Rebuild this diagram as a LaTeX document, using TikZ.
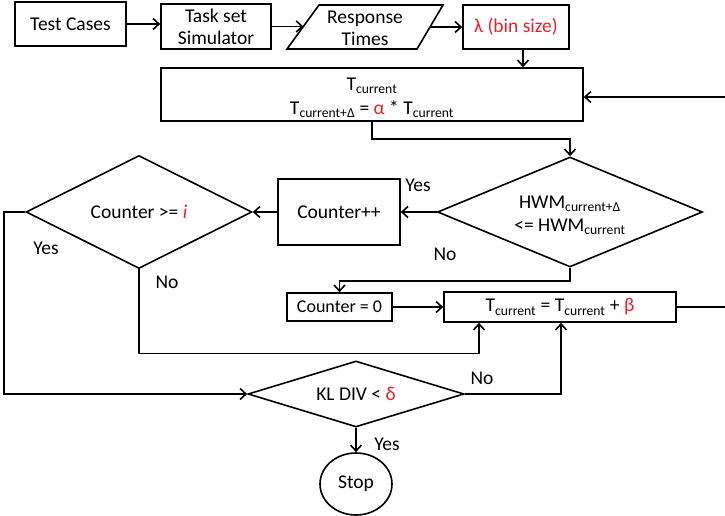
\documentclass[tikz,border=0pt]{standalone}
\usepackage{fontspec}
\setmainfont{Carlito}
\usetikzlibrary{shapes.geometric,arrows.meta}
\definecolor{accent}{RGB}{232,32,40}
\newcommand{\Tcur}{T\textsubscript{current}}
\newcommand{\hl}[1]{{\color{accent}#1}}
\begin{document}
\begin{tikzpicture}[x=1pt,y=-1pt,line width=1.6pt,
  every node/.style={font=\fontsize{19.5}{23}\selectfont},
  box/.style={draw,rectangle,inner sep=0pt,align=center},
  decision/.style={draw,diamond,inner sep=0pt,align=center},
  terminal/.style={draw,ellipse,inner sep=0pt},
  lbl/.style={inner sep=0pt},
  arr/.style={-{Straight Barb[length=6pt,width=11pt]}}]
\useasboundingbox (0,0) rectangle (725,516);
\clip (0,0) rectangle (725,516);

% top row
\node[box,minimum width=111pt,minimum height=44pt] (tests) at (70.5,24) {\raisebox{-2pt}{Test Cases}};
\node[box,minimum width=110pt,minimum height=45pt] (sim) at (216,26.5) {Task set\\[-1pt]Simulator};
\draw (319,5) -- (443,5) -- (417,49) -- (287,49) -- cycle;
\node[lbl,align=center] (resp) at (365,28) {Response\\[-1pt]Times};
\coordinate (respIn) at (303.4,26.5);
\coordinate (respOut) at (430,27);
\node[box,minimum width=106pt,minimum height=44pt] (lambda) at (516,27) {\hl{λ (bin size)}};

% time update box
\node[box,minimum width=422pt,minimum height=53pt] (tcur) at (372,94.5) {};
\node[lbl,align=center] (tcurtext) at (372,98)
  {\Tcur\\[1pt]T\textsubscript{current+Δ} = \hl{α} * \Tcur};

% decisions
\node[decision,aspect=2.4,minimum width=265pt,minimum height=110pt] (hwm) at (570,212) {};
\node[lbl,align=center] (hwmtext) at (570,215)
  {HWM\textsubscript{current+Δ}\\[0pt]<= HWM\textsubscript{current}};
\node[box,minimum width=122pt,minimum height=66pt] (cpp) at (339,212) {Counter++};
\node[decision,aspect=2,minimum width=226pt,minimum height=113pt] (cge) at (139,212)
  {Counter >= \hl{\itshape i}};

\node[box,minimum width=105pt,minimum height=28pt,font=\fontsize{18}{21}\selectfont] (c0) at (339.5,307) {Counter = 0};
\node[box,minimum width=232pt,minimum height=30pt] (tb) at (560,307) {\Tcur{} = \Tcur{} + \hl{β}};

\node[decision,aspect=3.2,minimum width=216pt,minimum height=66pt] (kl) at (356,394) {KL DIV < \hl{δ}};
\node[terminal,minimum width=72pt,minimum height=62pt] (stop) at (356,484) {Stop};

% branch labels
\node[lbl] (yes1) at (418,185) {Yes};
\node[lbl] (no1) at (445,254) {No};
\node[lbl] (yes2) at (46,248) {Yes};
\node[lbl] (no2) at (167,282) {No};
\node[lbl] (no3) at (482,378) {No};
\node[lbl] (yes3) at (387,444) {Yes};

% connectors
\draw[arr] (tests.east) -- (sim.west |- tests.east);
\draw[arr] (sim.east) -- (respIn);
\draw[arr] (respOut) -- (lambda.west);
\draw[arr] ([xshift=7pt]lambda.south) -- ([xshift=7pt]lambda.south |- tcur.north);
\draw[arr] (tcur.south) -- ++(0,17) -| (hwm.north);
\draw[arr] (hwm.west) -- (cpp.east);
\draw[arr] (cpp.west) -- (cge.east);
\draw[arr] (hwm.south) -- ++(0,13) -| (c0.north);
\draw[arr] (c0.east) -- (tb.west);
\draw[arr] (cge.south) -- ++(0,84) -| ([xshift=-81pt]tb.south);
\draw[arr] (kl.east) -| ([xshift=1pt]tb.south);
\draw[arr] (cge.west) -- ++(-21,0) |- (kl.west);
\draw[arr] (kl.south) -- (stop.north);
\draw[arr] (tb.east) -- ++(52,0) |- ([yshift=-2.5pt]tcur.east);
\end{tikzpicture}
\end{document}
